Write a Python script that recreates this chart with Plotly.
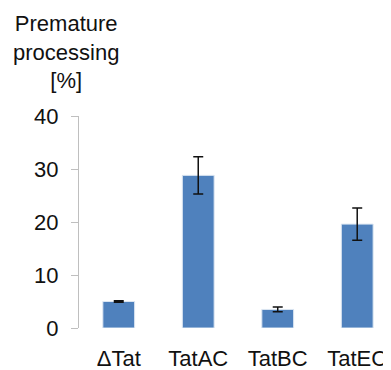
import plotly.graph_objects as go

categories = ["ΔTat", "TatAC", "TatBC", "TatEC"]
values = [5.0, 28.8, 3.5, 19.6]
errors = [0.15, 3.5, 0.45, 3.05]
y_ticks = [0, 10, 20, 30, 40]

FONT = "Liberation Sans, Arial, sans-serif"

fig = go.Figure(go.Bar(
    x=categories, y=values,
    marker=dict(color="#4F81BD", line=dict(color="#DCE6F2", width=1)),
    error_y=dict(type="data", array=errors, color="#111111", thickness=1.5, width=5),
    width=0.4,
))

fig.update_layout(
    width=383, height=362,
    margin=dict(l=71, r=0, t=108, b=42),
    paper_bgcolor="white", plot_bgcolor="white",
    showlegend=False,
    font=dict(family=FONT, size=22, color="#111111"),
    xaxis=dict(range=[-0.5, 3.425], showline=False, ticks="", showgrid=False,
               tickfont=dict(size=22), ticklabelstandoff=15, automargin=False,
               fixedrange=True),
    yaxis=dict(range=[0, 40], tickvals=y_ticks, showgrid=False, zeroline=False,
               showline=True, linecolor="#BFBFBF", linewidth=1,
               ticks="outside", ticklen=7, tickcolor="#BFBFBF", automargin=False,
               tickfont=dict(size=22), ticklabelstandoff=8),
    annotations=[dict(
        text="Premature<br>processing<br>[%]", xref="paper", yref="paper",
        x=-13/312, y=1, xanchor="center", yanchor="bottom", yshift=21,
        showarrow=False, font=dict(size=22, family=FONT, color="#111111"), align="center",
    )],
)

fig.write_html("out.html")
